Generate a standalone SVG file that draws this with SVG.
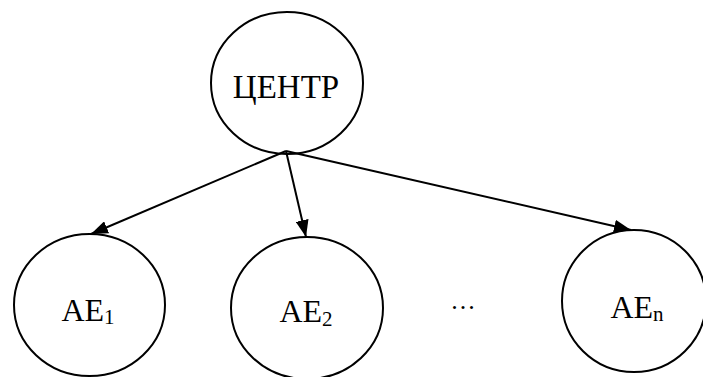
<svg xmlns="http://www.w3.org/2000/svg" width="703" height="377" viewBox="0 0 703 377">
  <style>
    .node { fill: #ffffff; stroke: #000000; stroke-width: 2; }
    .lbl { font-family: "Liberation Serif", "Times New Roman", serif; fill: #000000; text-anchor: middle; }
    .edge { stroke: #000000; stroke-width: 2; fill: none; marker-end: url(#arrow); }
  </style>
  <defs>
    <marker id="arrow" markerWidth="8.5" markerHeight="6.5" refX="8.5" refY="3.25" orient="auto" markerUnits="strokeWidth">
      <path d="M0,0 L8.5,3.25 L0,6.5 Z" fill="#000000"/>
    </marker>
  </defs>
  <rect width="703" height="377" fill="#ffffff"/>

  <g id="center">
    <ellipse class="node" cx="287" cy="83" rx="76" ry="71"/>
    <text class="lbl" x="286" y="98" font-size="33">ЦЕНТР</text>
  </g>

  <g id="ae1">
    <ellipse class="node" cx="89.5" cy="305" rx="75.5" ry="71"/>
    <text class="lbl" x="88" y="321" font-size="32">AE<tspan font-size="21" dy="3">1</tspan></text>
  </g>

  <g id="ae2">
    <ellipse class="node" cx="307" cy="308" rx="76" ry="71"/>
    <text class="lbl" x="306" y="322" font-size="32">AE<tspan font-size="21" dy="4">2</tspan></text>
  </g>

  <g id="dots">
    <text class="lbl" x="464" y="309" font-size="26" letter-spacing="2">...</text>
  </g>

  <g id="aen">
    <ellipse class="node" cx="634" cy="301" rx="72" ry="71"/>
    <text class="lbl" x="637" y="318" font-size="32">AE<tspan font-size="21" dy="3">n</tspan></text>
  </g>

  <g id="connectors">
    <line class="edge" x1="286" y1="151" x2="91" y2="234"/>
    <line class="edge" x1="286" y1="151" x2="306" y2="237"/>
    <line class="edge" x1="286" y1="151" x2="631" y2="230"/>
  </g>
</svg>
